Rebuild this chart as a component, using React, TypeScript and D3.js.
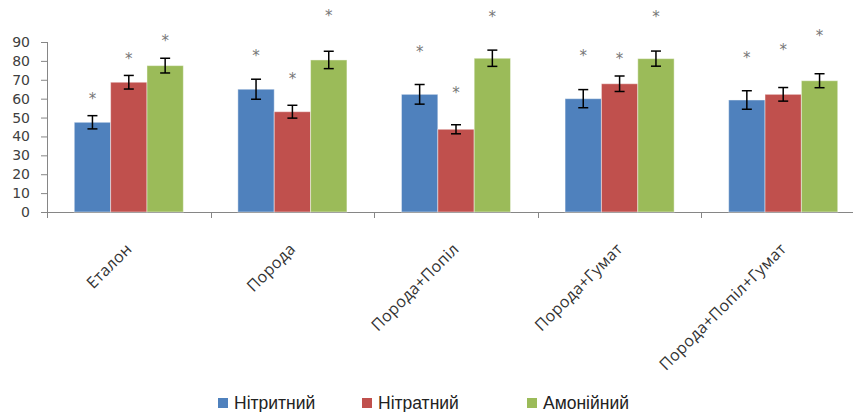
import * as d3 from 'd3';
import { useEffect, useRef } from 'react';

// categories (x axis)
const categories = ['Еталон', 'Порода', 'Порода+Попіл', 'Порода+Гумат', 'Порода+Попіл+Гумат'];

// series names
const seriesNames = ['Нітритний', 'Нітратний', 'Амонійний'];

// bar values
const nitrite = [47.5, 65.0, 62.3, 60.0, 59.3];
const nitrate = [68.7, 53.1, 43.8, 67.9, 62.3];
const ammonium = [77.5, 80.5, 81.4, 81.2, 69.5];

// error bar half-widths
const nitriteErr = [3.5, 5.3, 5.2, 4.8, 4.9];
const nitrateErr = [3.6, 3.4, 2.4, 4.1, 3.6];
const ammoniumErr = [3.9, 4.6, 4.3, 4.0, 3.7];

// level of the "*" marks
const nitriteStar = [61.9, 84.5, 87.0, 84.5, 83.6];
const nitrateStar = [83.1, 72.7, 65.0, 83.1, 87.9];
const ammoniumStar = [92.8, 105.7, 105.2, 105.2, 95.4];

// y axis ticks
const yTicks = [0, 10, 20, 30, 40, 50, 60, 70, 80, 90];

const colors = ['#4F81BD', '#C0504D', '#9BBB59'];

const App = () => {
  const chartRef = useRef<SVGSVGElement>(null);

  const width = 853;
  const height = 412;

  useEffect(() => {
    const svg = d3.select(chartRef.current);
    svg.selectAll('*').remove();

    const values = [nitrite, nitrate, ammonium];
    const errs = [nitriteErr, nitrateErr, ammoniumErr];
    const stars = [nitriteStar, nitrateStar, ammoniumStar];

    // scales
    const scaleX = d3.scaleBand<string>().domain(categories).range([47, 865]);
    const scaleS = d3
      .scaleBand<number>()
      .domain([0, 1, 2])
      .range([0, scaleX.bandwidth()])
      .paddingInner(0)
      .paddingOuter(0.75);
    const scaleY = d3.scaleLinear().domain([0, 90]).range([212, 42]);

    // y axis
    const yAxis = d3
      .axisLeft(scaleY)
      .tickValues(yTicks)
      .tickSize(6)
      .tickSizeOuter(0)
      .tickPadding(11);
    const gy = svg.append('g').attr('transform', 'translate(47,0)').call(yAxis);
    gy.select('.domain').attr('stroke', '#868686').attr('d', 'M0.5,42V218');
    gy.selectAll('.tick line').attr('stroke', '#868686');
    gy.selectAll('.tick text')
      .attr('fill', '#404040')
      .style('font-family', '"DejaVu Sans", Verdana, sans-serif')
      .style('font-size', '14px');

    // x axis line + ticks between categories
    svg
      .append('line')
      .attr('x1', 47)
      .attr('x2', width)
      .attr('y1', 212.5)
      .attr('y2', 212.5)
      .attr('stroke', '#868686');
    categories.forEach((c) => {
      const x = Math.round(scaleX(c)!) + 0.5;
      svg
        .append('line')
        .attr('x1', x)
        .attr('x2', x)
        .attr('y1', 212)
        .attr('y2', 218)
        .attr('stroke', '#868686');
    });

    // category labels, rotated
    categories.forEach((c) => {
      const cx = scaleX(c)! + scaleX.bandwidth() / 2;
      svg
        .append('text')
        .attr('transform', `translate(${cx + 4},${250}) rotate(-45)`)
        .attr('text-anchor', 'end')
        .style('font-family', '"Open Sans", sans-serif')
        .style('font-size', '16px')
        .style('letter-spacing', '0.3px')
        .attr('fill', '#333')
        .text(c);
    });

    // bars, error bars, stars
    for (let i = 0; i < 3; i++) {
      const g = svg.append('g');
      g.selectAll('rect')
        .data(categories)
        .enter()
        .append('rect')
        .attr('x', (c) => scaleX(c)! + scaleS(i)!)
        .attr('y', (c, j) => scaleY(values[i][j]))
        .attr('width', scaleS.bandwidth())
        .attr('height', (c, j) => scaleY(0) - scaleY(values[i][j]))
        .attr('fill', colors[i])
        .attr('stroke', 'rgba(255,255,255,0.45)')
        .attr('stroke-width', 1);

      categories.forEach((c, j) => {
        const cx = scaleX(c)! + scaleS(i)! + scaleS.bandwidth() / 2;
        const top = scaleY(values[i][j] + errs[i][j]);
        const bot = scaleY(values[i][j] - errs[i][j]);
        const eg = g.append('g').attr('stroke', '#000').attr('stroke-width', 1.5);
        eg.append('line').attr('x1', cx).attr('x2', cx).attr('y1', top).attr('y2', bot);
        eg.append('line').attr('x1', cx - 5).attr('x2', cx + 5).attr('y1', top).attr('y2', top);
        eg.append('line').attr('x1', cx - 5).attr('x2', cx + 5).attr('y1', bot).attr('y2', bot);

        g.append('text')
          .attr('x', cx)
          .attr('y', scaleY(stars[i][j]) + 9)
          .attr('text-anchor', 'middle')
          .style('font-family', '"DejaVu Sans", sans-serif')
          .style('font-size', '15px')
          .attr('fill', '#777')
          .text('*');
      });
    }

    // legend
    const legendX = [218, 362, 527];
    seriesNames.forEach((name, i) => {
      svg
        .append('rect')
        .attr('x', legendX[i])
        .attr('y', 398)
        .attr('width', 10)
        .attr('height', 10)
        .attr('fill', colors[i]);
      svg
        .append('text')
        .attr('x', legendX[i] + 16)
        .attr('y', 409)
        .style('font-family', '"Liberation Sans", sans-serif')
        .style('font-size', '17.5px')
        .attr('fill', '#222')
        .text(name);
    });
  }, []);

  return (
    <svg
      ref={chartRef}
      width={width}
      height={height}
      style={{ position: 'absolute', left: 0, top: 0, background: '#fff' }}
    ></svg>
  );
};

export default App;
